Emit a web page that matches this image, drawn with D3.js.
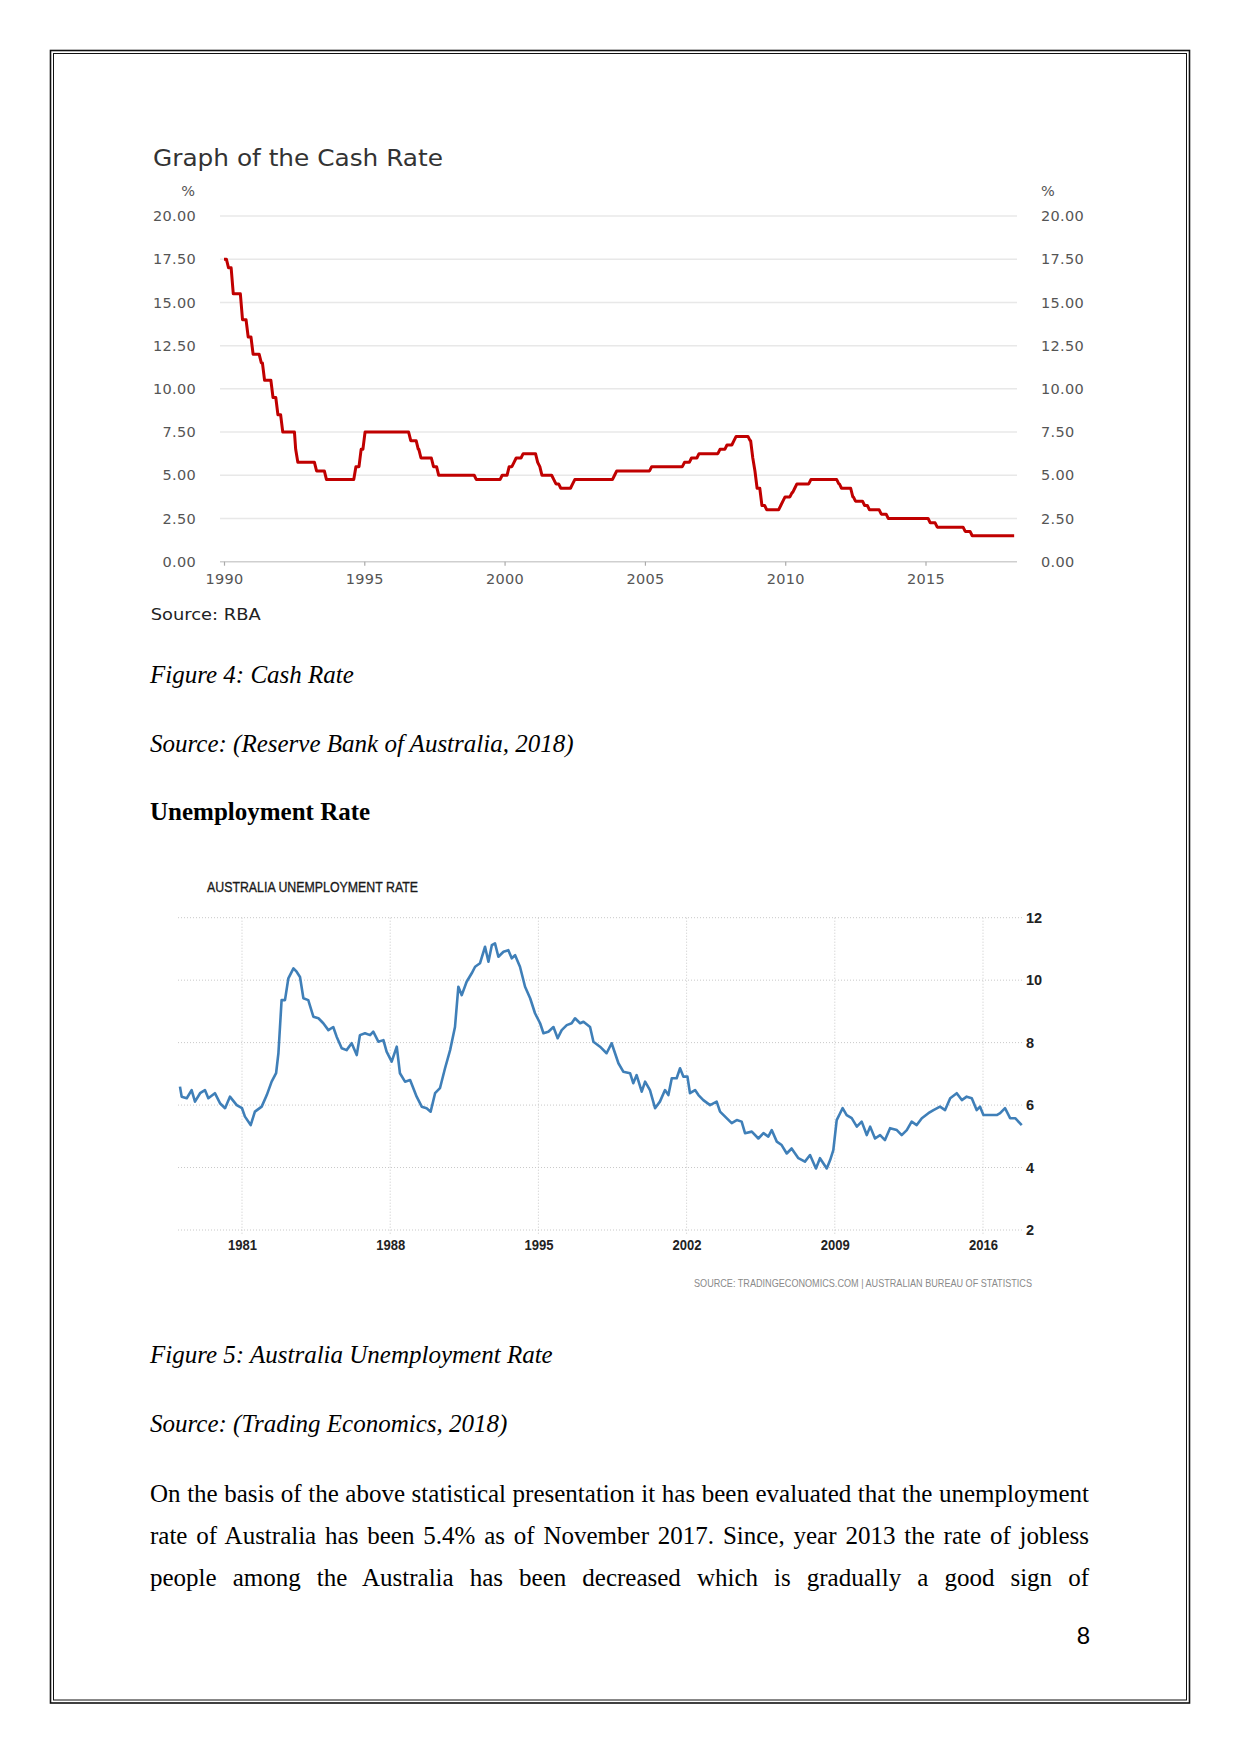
<!DOCTYPE html>
<html>
<head>
<meta charset="utf-8">
<script src="https://cdnjs.cloudflare.com/ajax/libs/d3/7.8.5/d3.min.js"></script>
<style>
  html, body { margin: 0; padding: 0; background: #fff; }
  svg { display: block; }
</style>
</head>
<body>
<svg id="page" width="1241" height="1754"></svg>
<script>
// ---------------- DATA ----------------
// Cash rate (RBA target), change dates and new values
const cashDates = ["1990-01-01","1990-02-01","1990-04-04","1990-08-02","1990-10-15","1990-12-18",
  "1991-04-04","1991-05-16","1991-09-03","1991-11-06","1992-01-08","1992-07-06","1992-07-22",
  "1993-03-23","1993-07-30","1994-08-17","1994-10-24","1994-12-14","1996-07-31","1996-11-06",
  "1996-12-11","1997-05-23","1997-07-30","1998-12-02","1999-11-03","2000-02-02","2000-04-05",
  "2000-05-03","2000-08-02","2001-02-07","2001-03-07","2001-04-04","2001-09-05","2001-10-03",
  "2001-12-05","2002-05-08","2002-06-05","2003-11-05","2003-12-03","2005-03-02","2006-05-03",
  "2006-08-02","2006-11-08","2007-08-08","2007-11-07","2008-02-06","2008-03-05","2008-09-03",
  "2008-10-08","2008-11-05","2008-12-03","2009-02-04","2009-04-08","2009-10-07","2009-11-04",
  "2009-12-02","2010-03-03","2010-04-07","2010-05-05","2010-11-03","2011-11-02","2011-12-07",
  "2012-05-02","2012-06-06","2012-10-03","2012-12-05","2013-05-08","2013-08-07","2015-02-04",
  "2015-05-06","2016-05-04","2016-08-03","2018-01-31"];
const cashValues = [17.5,17.0,15.5,14.0,13.0,12.0,
  11.5,10.5,9.5,8.5,7.5,6.5,5.75,
  5.25,4.75,5.5,6.5,7.5,7.0,6.5,
  6.0,5.5,5.0,4.75,5.0,5.5,5.75,
  6.0,6.25,5.75,5.5,5.0,4.75,4.5,
  4.25,4.5,4.75,5.0,5.25,5.5,5.75,
  6.0,6.25,6.5,6.75,7.0,7.25,7.0,
  6.0,5.25,4.25,3.25,3.0,3.25,3.5,
  3.75,4.0,4.25,4.5,4.75,4.5,4.25,
  3.75,3.5,3.25,3.0,2.75,2.5,2.25,
  2.0,1.75,1.5,1.5];
const cashYTicks = [0,2.5,5,7.5,10,12.5,15,17.5,20];
const cashXTicks = [1990,1995,2000,2005,2010,2015];

// Australia unemployment rate, decimal years
const unempYears = [1978.07,1978.15,1978.39,1978.62,1978.78,1979.02,1979.25,1979.41,1979.72,1979.96,
  1980.20,1980.43,1980.75,1981.00,1981.14,1981.41,1981.61,1981.93,1982.17,1982.40,1982.61,1982.72,
  1982.87,1983.03,1983.19,1983.43,1983.58,1983.74,1983.90,1984.13,1984.37,1984.61,1984.84,1985.08,
  1985.31,1985.47,1985.71,1985.94,1986.18,1986.42,1986.57,1986.81,1987.05,1987.20,1987.44,1987.68,
  1987.83,1988.07,1988.31,1988.46,1988.70,1988.94,1989.25,1989.49,1989.72,1989.91,1990.12,1990.35,
  1990.59,1990.83,1991.06,1991.22,1991.38,1991.61,1991.85,1992.01,1992.24,1992.48,1992.64,1992.80,
  1992.95,1993.11,1993.35,1993.58,1993.74,1993.90,1994.13,1994.37,1994.61,1994.84,1995.08,1995.24,
  1995.47,1995.71,1995.91,1996.10,1996.34,1996.57,1996.73,1996.97,1997.13,1997.44,1997.60,1997.91,
  1998.22,1998.46,1998.78,1999.01,1999.33,1999.48,1999.64,1999.88,2000.04,2000.27,2000.51,2000.74,
  2000.98,2001.14,2001.30,2001.53,2001.69,2001.85,2002.04,2002.16,2002.40,2002.56,2002.79,2003.11,
  2003.42,2003.58,2003.89,2004.13,2004.37,2004.60,2004.76,2005.08,2005.39,2005.63,2005.86,2006.02,
  2006.26,2006.49,2006.73,2006.96,2007.28,2007.59,2007.83,2008.11,2008.30,2008.62,2008.78,2008.93,
  2009.09,2009.25,2009.37,2009.56,2009.80,2010.04,2010.27,2010.51,2010.67,2010.90,2011.14,2011.37,
  2011.61,2011.93,2012.16,2012.40,2012.63,2012.87,2013.11,2013.42,2013.66,2013.97,2014.21,2014.45,
  2014.76,2015.00,2015.23,2015.47,2015.70,2015.86,2016.02,2016.26,2016.65,2016.81,2017.04,2017.28,
  2017.52,2017.83];
const unempValues = [6.59,6.27,6.22,6.48,6.11,6.38,6.48,6.22,6.38,6.06,
  5.90,6.27,6.00,5.90,5.63,5.36,5.79,5.95,6.32,6.75,7.02,7.66,
  9.36,9.36,10.06,10.38,10.27,10.10,9.42,9.36,8.83,8.78,8.62,8.40,
  8.50,8.19,7.82,7.76,7.98,7.60,8.24,8.30,8.24,8.35,8.03,8.08,
  7.71,7.39,7.87,7.02,6.75,6.80,6.27,5.95,5.90,5.79,6.38,6.54,
  7.18,7.76,8.50,9.79,9.52,9.95,10.22,10.43,10.54,11.07,10.59,11.12,
  11.18,10.75,10.91,10.96,10.70,10.80,10.43,9.79,9.42,8.94,8.62,8.30,
  8.35,8.50,8.14,8.40,8.56,8.62,8.78,8.62,8.67,8.50,8.03,7.87,
  7.66,7.98,7.34,7.07,7.02,6.70,6.96,6.43,6.75,6.48,5.90,6.11,
  6.48,6.32,6.86,6.86,7.18,6.91,6.91,6.38,6.48,6.32,6.16,6.00,
  6.11,5.79,5.58,5.42,5.52,5.47,5.10,5.15,4.93,5.10,4.99,5.20,
  4.83,4.72,4.45,4.61,4.30,4.19,4.40,3.97,4.30,3.97,4.24,4.56,
  5.52,5.74,5.90,5.68,5.58,5.31,5.47,5.04,5.31,4.93,5.04,4.88,
  5.26,5.20,5.04,5.20,5.47,5.36,5.58,5.74,5.84,5.95,5.84,6.22,
  6.38,6.16,6.27,6.22,5.84,5.95,5.68,5.68,5.68,5.74,5.90,5.58,
  5.58,5.36];
const unempYTicks = [2,4,6,8,10,12];
const unempXTicks = [1981,1988,1995,2002,2009,2016];

const bodyLines = [
  "On the basis of the above statistical presentation it has been evaluated that the unemployment",
  "rate of Australia has been 5.4% as of November 2017. Since, year 2013 the rate of jobless",
  "people among the Australia has been decreased which is gradually a good sign of"
];

// ---------------- PAGE ----------------
const svg = d3.select("#page");
svg.append("rect").attr("x",0).attr("y",0).attr("width",1241).attr("height",1754).attr("fill","#fff");
// double page border
svg.append("rect").attr("x",50.5).attr("y",50.5).attr("width",1139).attr("height",1652.5)
  .attr("fill","none").attr("stroke","#111").attr("stroke-width",1.6);
svg.append("rect").attr("x",53.5).attr("y",53.5).attr("width",1133).attr("height",1646.5)
  .attr("fill","none").attr("stroke","#111").attr("stroke-width",1);

// ---------------- CASH RATE CHART ----------------
const cash = svg.append("g");
const parse = d3.timeParse("%Y-%m-%d");
const cx = d3.scaleTime().domain([new Date(1990,0,1), new Date(2015,0,1)]).range([224, 925.5]);
const cy = d3.scaleLinear().domain([0,20]).range([561.7, 216]);
const plotL = 220, plotR = 1017;
const vera = "'DejaVu Sans', Verdana, sans-serif";

cash.append("text").attr("x",153).attr("y",166)
  .attr("font-family",vera).attr("font-size",23.5).attr("fill","#333")
  .attr("textLength",290).attr("lengthAdjust","spacingAndGlyphs")
  .text("Graph of the Cash Rate");

// gridlines
cash.append("g").selectAll("line").data(cashYTicks.filter(d=>d>0)).join("line")
  .attr("x1",plotL).attr("x2",plotR).attr("y1",d=>cy(d)).attr("y2",d=>cy(d))
  .attr("stroke","#e8e8e8").attr("stroke-width",1.5);
cash.append("line").attr("x1",plotL).attr("x2",plotR).attr("y1",cy(0)).attr("y2",cy(0))
  .attr("stroke","#cfcfcf").attr("stroke-width",1.5);

// left / right axes (labels only)
const fmt2 = d3.format(".2f");
const leftAx = cash.append("g").attr("transform",`translate(${plotL},0)`)
  .call(d3.axisLeft(cy).tickValues(cashYTicks).tickFormat(fmt2).tickSize(0).tickPadding(24));
const rightAx = cash.append("g").attr("transform",`translate(${plotR},0)`)
  .call(d3.axisRight(cy).tickValues(cashYTicks).tickFormat(fmt2).tickSize(0).tickPadding(24));
[leftAx,rightAx].forEach(a=>{
  a.select(".domain").remove();
  a.selectAll("text").attr("font-family",vera).attr("font-size",14.5).attr("fill","#555")
    .attr("letter-spacing",0.3);
});
cash.append("text").attr("x",195).attr("y",196).attr("text-anchor","end")
  .attr("font-family",vera).attr("font-size",14.5).attr("fill","#555").text("%");
cash.append("text").attr("x",1041).attr("y",196)
  .attr("font-family",vera).attr("font-size",14.5).attr("fill","#555").text("%");

// bottom axis
const botAx = cash.append("g").attr("transform",`translate(0,${cy(0)})`)
  .call(d3.axisBottom(cx).tickValues(cashXTicks.map(y=>new Date(y,0,1)))
    .tickFormat(d3.timeFormat("%Y")).tickSize(4).tickPadding(8));
botAx.select(".domain").remove();
botAx.selectAll("line").attr("stroke","#aaa").attr("stroke-width",1.2);
botAx.selectAll("text").attr("font-family",vera).attr("font-size",14.5).attr("fill","#555")
  .attr("letter-spacing",0.3);

// line (each rate change drawn as a one-month ramp, as in the monthly RBA series)
const cashPts = [];
const cd = cashDates.map(parse);
cashPts.push([cd[0], cashValues[0]]);
for (let i = 1; i < cd.length; i++) {
  const ramp = d3.timeDay.offset(cd[i], 28);
  const next = i + 1 < cd.length ? cd[i+1] : ramp;
  cashPts.push([cd[i], cashValues[i-1]]);
  cashPts.push([ramp < next ? ramp : next, cashValues[i]]);
}
cash.append("path").datum(cashPts)
  .attr("d", d3.line().x(d=>cx(d[0])).y(d=>cy(d[1])))
  .attr("fill","none").attr("stroke","#c00000").attr("stroke-width",3)
  .attr("stroke-linejoin","round");

cash.append("text").attr("x",150.7).attr("y",620)
  .attr("font-family",vera).attr("font-size",16.5).attr("fill","#222")
  .attr("textLength",110).attr("lengthAdjust","spacingAndGlyphs").text("Source: RBA");

// ---------------- BODY TEXT ----------------
const serif = "'Liberation Serif', 'Times New Roman', serif";
function para(txt, y, style, weight) {
  return svg.append("text").attr("x",150).attr("y",y).attr("font-family",serif)
    .attr("font-size",25).attr("font-style",style||"normal").attr("font-weight",weight||"normal")
    .attr("fill","#000").text(txt);
}
para("Figure 4: Cash Rate", 683, "italic");
para("Source: (Reserve Bank of Australia, 2018)", 751.5, "italic");
para("Unemployment Rate", 820, "normal", "bold");
para("Figure 5: Australia Unemployment Rate", 1363, "italic");
para("Source: (Trading Economics, 2018)", 1431.5, "italic");
const bodyY = [1501.5, 1543.5, 1586];
bodyLines.forEach((t,i)=>{
  const el = para(t, bodyY[i]);
  const w = el.node().getComputedTextLength();
  const spaces = (t.match(/ /g)||[]).length;
  el.attr("word-spacing", (939 - w)/spaces);
});
svg.append("text").attr("x",1090).attr("y",1644).attr("text-anchor","end")
  .attr("font-family","'Liberation Sans', Arial, sans-serif").attr("font-size",24)
  .attr("fill","#000").text("8");

// ---------------- UNEMPLOYMENT CHART ----------------
const un = svg.append("g");
const ux = d3.scaleLinear().domain([1981,2016]).range([242,983]);
const uy = d3.scaleLinear().domain([2,12]).range([1230,917.7]);
const uL = 178, uR = 1022;
const sans = "'Liberation Sans', Arial, sans-serif";

un.append("text").attr("x",207).attr("y",891.5)
  .attr("font-family",sans).attr("font-size",15.5).attr("fill","#1a1a1a")
  .attr("stroke","#1a1a1a").attr("stroke-width",0.35)
  .attr("textLength",211).attr("lengthAdjust","spacingAndGlyphs")
  .text("AUSTRALIA UNEMPLOYMENT RATE");

un.append("g").selectAll("line").data(unempYTicks).join("line")
  .attr("x1",uL).attr("x2",uR).attr("y1",d=>uy(d)).attr("y2",d=>uy(d))
  .attr("stroke","#c8c8c8").attr("stroke-width",1).attr("stroke-dasharray","1,2");
un.append("g").selectAll("line").data(unempXTicks).join("line")
  .attr("x1",d=>ux(d)).attr("x2",d=>ux(d)).attr("y1",uy(12)).attr("y2",uy(2)+5)
  .attr("stroke","#c8c8c8").attr("stroke-width",1).attr("stroke-dasharray","1,2");

const uRight = un.append("g").attr("transform",`translate(${uR},0)`)
  .call(d3.axisRight(uy).tickValues(unempYTicks).tickFormat(d3.format("d")).tickSize(0).tickPadding(4));
uRight.select(".domain").remove();
uRight.selectAll("text").attr("font-family",sans).attr("font-size",14.5).attr("font-weight","bold")
  .attr("fill","#222");

const uBot = un.append("g").attr("transform",`translate(0,${uy(2)})`)
  .call(d3.axisBottom(ux).tickValues(unempXTicks).tickFormat(d3.format("d")).tickSize(0).tickPadding(10));
uBot.select(".domain").remove();
uBot.selectAll("text").attr("font-family",sans).attr("font-size",14.5).attr("font-weight","bold")
  .attr("fill","#222").attr("textLength",29).attr("lengthAdjust","spacingAndGlyphs");

un.append("path").datum(d3.zip(unempYears, unempValues))
  .attr("d", d3.line().x(d=>ux(d[0])).y(d=>uy(d[1])))
  .attr("fill","none").attr("stroke","#3f7fb8").attr("stroke-width",2.6)
  .attr("stroke-linejoin","round");

un.append("text").attr("x",694).attr("y",1287)
  .attr("font-family",sans).attr("font-size",11).attr("fill","#8a8a8a")
  .attr("textLength",338).attr("lengthAdjust","spacingAndGlyphs")
  .text("SOURCE: TRADINGECONOMICS.COM | AUSTRALIAN BUREAU OF STATISTICS");
</script>
</body>
</html>
